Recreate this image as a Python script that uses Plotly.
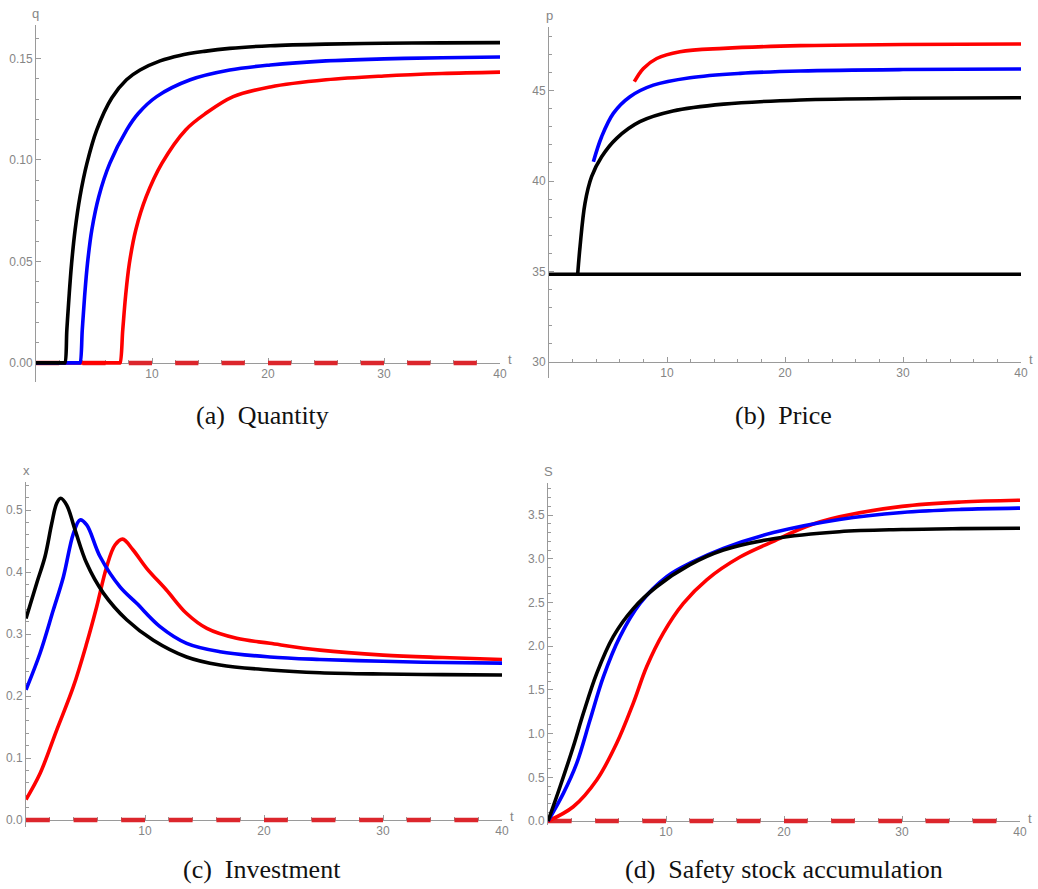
import plotly.graph_objects as go

# ---------------- data ----------------
# (a) Quantity q(t)
qa_black_t = [0, 2.4, 2.49, 2.66, 2.85, 3.07, 3.37, 3.79, 4.39, 5.24, 6.53, 7.8, 8.97, 10.7, 12.4, 14.5, 16.7, 20.2, 25, 30, 35, 40]
qa_black = [0, 0, 0, 0.0164, 0.0328, 0.0491, 0.0655, 0.0819, 0.0983, 0.1148, 0.1305, 0.1395, 0.1443, 0.1488, 0.1515, 0.1535, 0.1550, 0.1563, 0.1571, 0.1575, 0.1577, 0.1578]
qa_blue_t = [0, 3.7, 3.79, 3.99, 4.19, 4.44, 4.81, 5.41, 6.36, 7.82, 8.83, 10.4, 13.3, 16.7, 20.2, 25, 30, 35, 40]
qa_blue = [0, 0, 0, 0.0164, 0.0328, 0.0491, 0.0655, 0.0819, 0.0983, 0.1148, 0.123, 0.1312, 0.1395, 0.1443, 0.1468, 0.1488, 0.1498, 0.1504, 0.1507]
qa_red_t = [0, 7.15, 7.24, 7.48, 7.72, 8.05, 8.6, 9.5, 10.85, 12.9, 14.65, 17.0, 20.2, 25, 30, 35, 40]
qa_red = [0, 0, 0, 0.0164, 0.0328, 0.0491, 0.0655, 0.0819, 0.0983, 0.1148, 0.123, 0.1312, 0.136, 0.1395, 0.1414, 0.1426, 0.1433]
qa_zero_t = [0, 40]
qa_zero = [0, 0]

# (b) Price p(t)
pb_floor_t = [0, 40]
pb_floor = [34.85, 34.85]
pb_black_t = [2.43, 2.63, 3.05, 3.61, 4.46, 5.73, 7.7, 10.5, 14.8, 21.3, 30, 40]
pb_black = [34.85, 36.37, 38.77, 40.24, 41.34, 42.36, 43.28, 43.87, 44.25, 44.48, 44.57, 44.6]
pb_blue_t = [3.76, 4.46, 5.45, 6.86, 8.84, 11.95, 16.2, 21.3, 30, 40]
pb_blue = [41.07, 42.45, 43.74, 44.66, 45.30, 45.71, 45.95, 46.08, 46.16, 46.19]
pb_red_t = [7.23, 8.0, 9.13, 11.1, 14.8, 21.3, 30, 40]
pb_red = [45.49, 46.22, 46.77, 47.14, 47.33, 47.48, 47.54, 47.57]

# (c) Investment x(t)
xc_black_t = [0, 0.9, 1.6, 2.16, 2.58, 2.91, 3.42, 4.12, 5.1, 6.5, 8.46, 10.7, 13.5, 16.3, 20.5, 24.7, 30, 35, 40]
xc_black = [0.325, 0.382, 0.425, 0.478, 0.511, 0.519, 0.508, 0.468, 0.414, 0.366, 0.323, 0.290, 0.263, 0.25, 0.242, 0.2376, 0.2355, 0.2345, 0.234]
xc_blue_t = [0, 1.18, 2.3, 3.14, 3.98, 4.54, 5.1, 6.22, 7.9, 9.3, 11.26, 13.5, 16.3, 20.5, 24.7, 30, 35, 40]
xc_blue = [0.21, 0.269, 0.339, 0.392, 0.462, 0.484, 0.476, 0.425, 0.376, 0.3495, 0.312, 0.285, 0.2715, 0.263, 0.259, 0.256, 0.254, 0.253]
xc_red_t = [0, 1.18, 2.58, 3.98, 5.1, 5.94, 6.78, 7.48, 8.12, 9.0, 10.14, 11.8, 13.5, 15.2, 17.7, 20.5, 24.7, 30, 35, 40]
xc_red = [0.033, 0.075, 0.145, 0.215, 0.285, 0.344, 0.4085, 0.4435, 0.453, 0.4355, 0.406, 0.371, 0.333, 0.309, 0.293, 0.285, 0.274, 0.266, 0.262, 0.259]
xc_zero_t = [0, 40]
xc_zero = [0, 0]

# (d) Safety stock S(t)
sd_black_t = [0, 1.02, 2.14, 2.99, 4.13, 5.53, 7.23, 9.2, 12.0, 14.86, 19.1, 24.7, 30, 35, 40]
sd_black = [0, 0.393, 0.85, 1.23, 1.69, 2.11, 2.43, 2.68, 2.93, 3.10, 3.23, 3.31, 3.335, 3.345, 3.35]
sd_blue_t = [0, 1.3, 2.43, 3.56, 4.69, 6.1, 7.8, 10.06, 12.3, 14.86, 19.1, 24.7, 30, 35, 40]
sd_blue = [0, 0.317, 0.66, 1.156, 1.65, 2.11, 2.49, 2.795, 2.967, 3.12, 3.3, 3.45, 3.53, 3.565, 3.58]
sd_red_t = [0, 2.14, 4.13, 5.82, 7.23, 8.36, 9.77, 11.47, 13.45, 16.27, 19.1, 21.9, 24.7, 30, 35, 40]
sd_red = [0, 0.164, 0.47, 0.89, 1.35, 1.765, 2.15, 2.49, 2.76, 3.02, 3.2, 3.37, 3.48, 3.6, 3.65, 3.67]
sd_zero_t = [0, 40]
sd_zero = [0, 0]

x_tick_labels = [10, 20, 30, 40]
captions = ["(a)\u2002Quantity", "(b)\u2002Price", "(c)\u2002Investment", "(d)\u2002Safety stock accumulation"]
y_labels = ["q", "p", "x", "S"]

# ---------------- layout geometry ----------------
W, H = 1038, 889
AXIS_GRAY = "#9a9a9a"
TEXT_GRAY = "#858585"
TICK_FONT = dict(family="Liberation Sans Narrow, Liberation Sans, Arial Narrow, sans-serif", size=12, color=TEXT_GRAY)
DASH_RED = "#dc262c"
LW = 3.6

# pixel positions in the window
panels = [
    dict(xpx=(36, 500), ypx=(25, 382), yr=(-0.0094, 0.1665), base=0, dt=0.05, mdt=0.01, fmt=".2f", t0=0),
    dict(xpx=(549, 1021), ypx=(27, 378), yr=(29.12, 48.51), base=30, dt=5, mdt=1, fmt="d", t0=0),
    dict(xpx=(26, 502), ypx=(482, 827), yr=(-0.0113, 0.5452), base=0, dt=0.1, mdt=0.02, fmt=".1f", t0=0),
    dict(xpx=(548, 1020), ypx=(483, 825), yr=(-0.045, 3.867), base=0, dt=0.5, mdt=0.1, fmt=".1f", t0=0),
]
caption_pos = [(262, 416), (783, 416), (262, 869), (784, 869)]


def fx(X):
    return X / W


def fy(Y):
    return 1 - Y / H


fig = go.Figure()

series = [
    (0, qa_zero_t, qa_zero, DASH_RED, True),
    (0, qa_red_t, qa_red, "#ff0000", False),
    (0, qa_blue_t, qa_blue, "#0000ff", False),
    (0, qa_black_t, qa_black, "#000000", False),
    (1, pb_floor_t, pb_floor, "#000000", False),
    (1, pb_red_t, pb_red, "#ff0000", False),
    (1, pb_blue_t, pb_blue, "#0000ff", False),
    (1, pb_black_t, pb_black, "#000000", False),
    (2, xc_zero_t, xc_zero, DASH_RED, True),
    (2, xc_red_t, xc_red, "#ff0000", False),
    (2, xc_blue_t, xc_blue, "#0000ff", False),
    (2, xc_black_t, xc_black, "#000000", False),
    (3, sd_zero_t, sd_zero, DASH_RED, True),
    (3, sd_red_t, sd_red, "#ff0000", False),
    (3, sd_blue_t, sd_blue, "#0000ff", False),
    (3, sd_black_t, sd_black, "#000000", False),
]

for pi, t, y, color, dashed in series:
    suffix = "" if pi == 0 else str(pi + 1)
    p = panels[pi]
    px_per_unit = (p["xpx"][1] - p["xpx"][0]) / 40.0
    if dashed:
        seg = 2 * px_per_unit
        line = dict(color=color, width=4.5, dash=f"{seg:.2f}px,{seg:.2f}px")
    else:
        line = dict(color=color, width=LW, shape="spline", smoothing=1.0)
    fig.add_trace(go.Scatter(x=t, y=y, mode="lines", line=line,
                             xaxis="x" + suffix, yaxis="y" + suffix,
                             showlegend=False, hoverinfo="skip"))

annotations = []
for i, p in enumerate(panels):
    suffix = "" if i == 0 else str(i + 1)
    x0, x1 = p["xpx"]
    ytop, ybot = p["ypx"]
    ydom = [fy(ybot), fy(ytop)]
    r0, r1 = p["yr"]
    pos = ydom[0] + (p["base"] - r0) / (r1 - r0) * (ydom[1] - ydom[0])
    fig.layout["xaxis" + suffix] = dict(
        domain=[fx(x0), fx(x1)], range=[0, 40], anchor="free", position=pos,
        showline=True, linecolor=AXIS_GRAY, linewidth=1, layer="below traces",
        ticks="inside", ticklen=5, tickcolor=AXIS_GRAY, tickwidth=1,
        tickmode="array", tickvals=x_tick_labels, ticktext=[str(v) for v in x_tick_labels],
        minor=dict(ticks="inside", ticklen=3, tickcolor=AXIS_GRAY, dtick=2, tick0=0, showgrid=False),
        tickfont=TICK_FONT, showgrid=False, zeroline=False, fixedrange=True, automargin=False,
    )
    fig.layout["yaxis" + suffix] = dict(
        domain=ydom, range=[r0, r1], anchor="x" + suffix,
        showline=True, linecolor=AXIS_GRAY, linewidth=1, layer="below traces",
        ticks="inside", ticklen=5, tickcolor=AXIS_GRAY, tickwidth=1,
        tickmode="linear", tick0=p["t0"], dtick=p["dt"], tickformat=p["fmt"],
        minor=dict(ticks="inside", ticklen=3, tickcolor=AXIS_GRAY, dtick=p["mdt"], tick0=p["t0"], showgrid=False),
        tickfont=TICK_FONT, showgrid=False, zeroline=False, fixedrange=True, automargin=False,
    )
    base_Y = (1 - pos) * H
    annotations.append(dict(text=y_labels[i], x=fx(x0), y=fy(ytop - 12), xref="paper", yref="paper",
                            xanchor="center", yanchor="middle", showarrow=False,
                            font=dict(family=TICK_FONT["family"], size=13, color=TEXT_GRAY)))
    annotations.append(dict(text="t", x=fx(x1 + 6), y=fy(base_Y - 3), xref="paper", yref="paper",
                            xanchor="left", yanchor="middle", showarrow=False,
                            font=dict(family=TICK_FONT["family"], size=13, color=TEXT_GRAY)))
    cx, cy = caption_pos[i]
    annotations.append(dict(text=captions[i], x=fx(cx), y=fy(cy), xref="paper", yref="paper",
                            xanchor="center", yanchor="middle", showarrow=False,
                            font=dict(family="Liberation Serif, DejaVu Serif, serif", size=26, color="#111111")))

fig.update_layout(
    template="none",
    width=W, height=H, margin=dict(l=0, r=0, t=0, b=0, autoexpand=False),
    paper_bgcolor="white", plot_bgcolor="white",
    annotations=annotations, showlegend=False,
)

fig.write_html("out.html", config={"displayModeBar": False},
               post_script="document.body.style.margin='0';document.body.style.overflow='hidden';")
